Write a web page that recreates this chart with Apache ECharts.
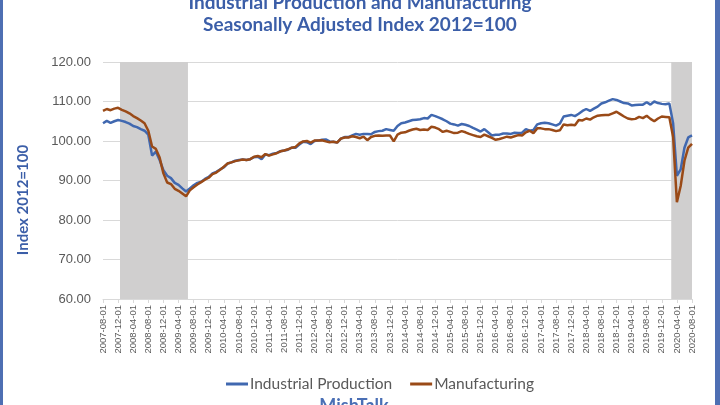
<!DOCTYPE html>
<html><head><meta charset="utf-8">
<script src="https://cdn.jsdelivr.net/npm/echarts@6/dist/echarts.min.js"></script>
<style>html,body{margin:0;padding:0;background:#fff}#c{width:720px;height:405px}</style>
</head><body><div id="c"></div>
<script>
// Monthly dates 2007-08-01 .. 2020-08-01
const startYear = 2007, startMonth = 8, monthCount = 157;
const categories = [];
for (let i = 0; i < monthCount; i++) {
  const m = (startMonth - 1 + i) % 12 + 1;
  const y = startYear + Math.floor((startMonth - 1 + i) / 12);
  categories.push(y + '-' + String(m).padStart(2, '0') + '-01');
}
const industrialProduction = [
  104.5,105.1,104.6,105.0,105.3,
  105.1,104.8,104.4,103.8,103.5,103.0,102.6,101.6,96.3,97.3,95.2,92.6,
  91.2,90.6,89.4,88.9,88.0,87.2,88.0,88.8,89.4,89.7,90.4,90.9,
  91.8,92.2,92.8,93.3,94.3,94.6,95.0,95.2,95.3,95.2,95.4,95.9,
  96.0,95.4,96.6,96.4,96.8,97.0,97.4,97.6,97.8,98.3,98.3,99.1,
  99.8,99.7,99.2,100.0,100.1,100.3,100.4,99.9,99.8,99.6,100.6,101.0,
  101.0,101.4,101.8,101.6,101.8,101.8,101.7,102.3,102.5,102.6,103.0,102.8,
  102.6,103.8,104.5,104.7,105.0,105.3,105.4,105.5,105.8,105.7,106.6,106.3,
  105.9,105.5,105.0,104.4,104.2,103.9,104.3,104.1,103.8,103.3,102.9,102.4,
  103.0,102.2,101.4,101.6,101.6,101.9,101.9,101.8,102.1,102.0,102.1,103.0,
  102.6,102.8,104.2,104.5,104.6,104.5,104.2,103.9,104.4,106.2,106.4,106.6,
  106.3,106.9,107.6,108.1,107.6,108.2,108.7,109.5,109.8,110.2,110.6,110.4,
  110.0,109.6,109.5,109.0,109.1,109.2,109.2,109.8,109.2,110.0,109.6,109.4,
  109.3,109.5,104.5,91.2,92.8,98.3,100.9,101.4
];
const manufacturing = [
  107.6,108.1,107.8,108.2,108.4,
  107.9,107.5,107.0,106.3,105.8,105.2,104.5,102.6,98.6,98.0,95.8,91.8,
  89.5,89.1,87.9,87.4,86.7,86.0,87.5,88.3,89.0,89.6,90.2,90.7,
  91.6,92.0,92.7,93.5,94.3,94.6,94.9,95.1,95.3,95.2,95.4,96.0,
  96.2,95.9,96.7,96.3,96.6,96.9,97.4,97.6,97.9,98.3,98.5,99.4,
  99.9,100.0,99.6,100.1,100.1,100.2,99.9,99.7,99.8,99.6,100.6,100.9,
  100.9,101.2,101.0,100.7,101.1,100.2,101.0,101.3,101.4,101.3,101.4,101.4,
  99.9,101.6,102.1,102.2,102.6,102.9,103.1,102.8,102.9,102.8,103.6,103.4,
  103.0,102.3,102.6,102.3,102.0,102.1,102.5,102.2,101.8,101.5,101.2,101.0,
  101.6,101.2,100.8,100.3,100.5,100.8,101.1,100.9,101.2,101.5,101.4,102.2,
  102.6,102.0,103.2,103.2,103.0,103.0,102.8,102.5,102.7,104.2,104.0,104.1,
  104.0,105.3,105.2,105.7,105.4,106.0,106.4,106.5,106.6,106.6,107.0,107.4,
  106.8,106.2,105.7,105.5,105.6,106.1,105.8,106.4,105.6,105.0,105.7,106.2,
  106.1,106.0,101.0,84.5,88.6,95.0,98.3,99.3
];
const recessions = [['2008-01-01','2009-06-01'],['2020-03-01','2020-08-01']];
const yMin = 60, yMax = 120, yStep = 10;

const recessionData = recessions.map(r => [categories.indexOf(r[0]), categories.indexOf(r[1])]);

const chart = echarts.init(document.getElementById('c'), null, {renderer:'canvas'});
const titleColor = '#3b5ea8';
const shade = '#d0cfcf';
chart.setOption({
  animation: false,
  backgroundColor: '#fff',
  title: [
    {text: 'Industrial Production and Manufacturing', left: 'center', top: -12,
     textStyle: {fontFamily: 'Lato', fontWeight: 'bold', fontSize: 19, color: titleColor}},
    {text: 'Seasonally Adjusted Index 2012=100', left: 'center', top: 10,
     textStyle: {fontFamily: 'Lato', fontWeight: 'bold', fontSize: 19, color: titleColor}}
  ],
  grid: {left: 103, right: 28, top: 62, bottom: 106, containLabel: false},
  legend: {
    data: ['Industrial Production', 'Manufacturing'],
    bottom: 8, left: 221, itemWidth: 22, itemHeight: 3, itemGap: 18,
    icon: 'rect',
    textStyle: {fontFamily: 'Lato', fontSize: 15.5, color: '#595959', padding: [0, 0, 0, -3]}
  },
  xAxis: {
    type: 'category', data: categories, boundaryGap: false,
    axisLine: {lineStyle: {color: '#d9d9d9'}},
    axisTick: {show: true, interval: 3, length: 4, lineStyle: {color: '#d9d9d9'}},
    axisLabel: {interval: 3, rotate: 90, fontSize: 9.5, color: '#595959', margin: 6,
                fontFamily: 'Liberation Sans'},
    splitLine: {show: false}
  },
  yAxis: {
    type: 'value', min: yMin, max: yMax, interval: yStep,
    axisLine: {show: false}, axisTick: {show: false},
    axisLabel: {formatter: v => v.toFixed(2), fontSize: 13, color: '#595959', margin: 12,
                fontFamily: 'Liberation Sans'},
    splitLine: {lineStyle: {color: '#d9d9d9', width: 1}}
  },
  series: [
    {name: 'Recession', type: 'custom', data: recessionData, silent: true, z: 1,
     encode: {x: [0, 1]},
     renderItem: function (params, api) {
       const s = api.value(0), e = api.value(1);
       const p0 = api.coord([s, yMax]);
       const p1 = api.coord([e, yMin]);
       const w = api.size([1, 0])[0];
       const shape = echarts.graphic.clipRectByRect(
         {x: p0[0] - w / 2, y: p0[1], width: p1[0] - p0[0] + w, height: p1[1] - p0[1]},
         {x: params.coordSys.x, y: params.coordSys.y,
          width: params.coordSys.width, height: params.coordSys.height});
       return shape && {type: 'rect', shape: shape, style: {fill: shade}};
     }},
    {name: 'Industrial Production', type: 'line', data: industrialProduction, showSymbol: false,
     lineStyle: {color: '#4068b0', width: 2.5}, itemStyle: {color: '#4068b0'}, z: 3},
    {name: 'Manufacturing', type: 'line', data: manufacturing, showSymbol: false,
     lineStyle: {color: '#9a4a17', width: 2.5}, itemStyle: {color: '#9a4a17'}, z: 4}
  ],
  graphic: [
    {type: 'text', x: 23, y: 200, rotation: Math.PI / 2,
     style: {text: 'Index 2012=100', fill: titleColor, font: 'bold 15px Lato',
             textAlign: 'center', textVerticalAlign: 'middle'}},
    {type: 'text', x: 354, y: 397,
     style: {text: 'MishTalk', fill: '#4a6fb5', font: 'bold 18px Lato',
             textAlign: 'center', textVerticalAlign: 'top'}},
    {type: 'rect', shape: {x: 0, y: 0, width: 3, height: 405}, style: {fill: '#4e6fb3'}},
    {type: 'rect', shape: {x: 715, y: 0, width: 5, height: 405}, style: {fill: '#4e6fb3'}}
  ]
});
</script></body></html>
